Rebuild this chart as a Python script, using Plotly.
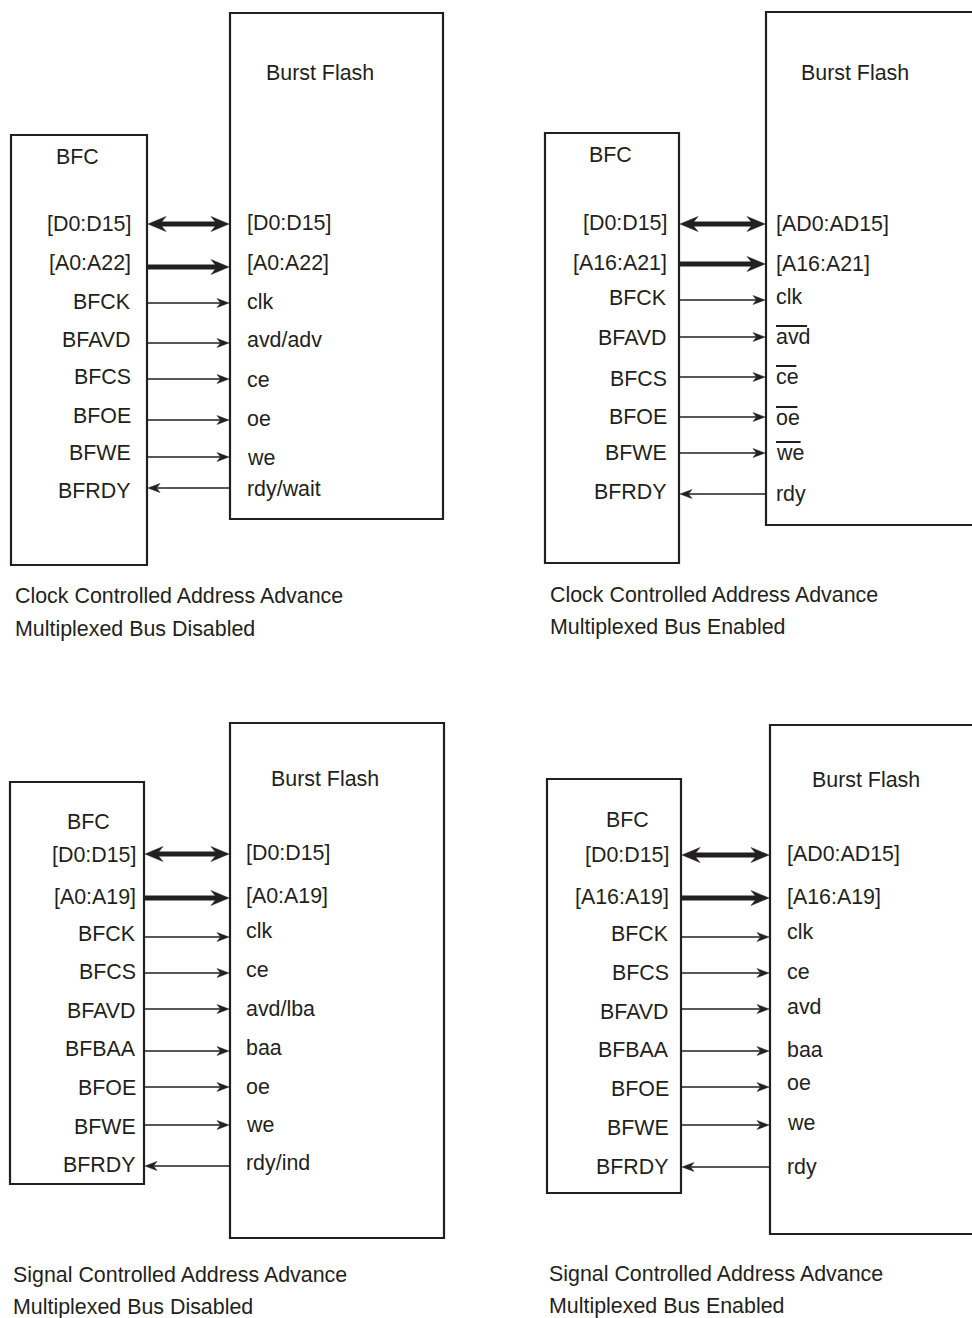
import plotly.graph_objects as go

INK = "#231f20"
FONT = "Liberation Sans, Arial, Helvetica, sans-serif"
FS = 21.4

# ---- Panel data -----------------------------------------------------------
# kind: "bidir" thick two-way bus, "bus" thick one-way, "in" BFC -> flash, "out" flash -> BFC

# Clock controlled address advance, multiplexed bus disabled
tl_bfc_pins = ["[D0:D15]", "[A0:A22]", "BFCK", "BFAVD", "BFCS", "BFOE", "BFWE", "BFRDY"]
tl_flash_pins = ["[D0:D15]", "[A0:A22]", "clk", "avd/adv", "ce", "oe", "we", "rdy/wait"]
tl_kind = ["bidir", "bus", "in", "in", "in", "in", "in", "out"]
tl_overline = [False, False, False, False, False, False, False, False]
tl_wire_y = [224, 267, 303, 343, 379, 420, 457, 488]
tl_bfc_y = [224, 263, 302, 340, 377, 416, 453, 491]
tl_flash_y = [223, 263, 302, 340, 380, 419, 458, 489]
tl_caption = ["Clock Controlled Address Advance", "Multiplexed Bus Disabled"]

# Clock controlled address advance, multiplexed bus enabled
tr_bfc_pins = ["[D0:D15]", "[A16:A21]", "BFCK", "BFAVD", "BFCS", "BFOE", "BFWE", "BFRDY"]
tr_flash_pins = ["[AD0:AD15]", "[A16:A21]", "clk", "avd", "ce", "oe", "we", "rdy"]
tr_kind = ["bidir", "bus", "in", "in", "in", "in", "in", "out"]
tr_overline = [False, False, False, True, True, True, True, False]
tr_wire_y = [224, 264, 300, 337, 377, 417, 453, 494]
tr_bfc_y = [223, 263, 298, 338, 379, 417, 453, 492]
tr_flash_y = [224, 264, 297, 337, 377, 418, 453, 494]
tr_caption = ["Clock Controlled Address Advance", "Multiplexed Bus Enabled"]

# Signal controlled address advance, multiplexed bus disabled
bl_bfc_pins = ["[D0:D15]", "[A0:A19]", "BFCK", "BFCS", "BFAVD", "BFBAA", "BFOE", "BFWE", "BFRDY"]
bl_flash_pins = ["[D0:D15]", "[A0:A19]", "clk", "ce", "avd/lba", "baa", "oe", "we", "rdy/ind"]
bl_kind = ["bidir", "bus", "in", "in", "in", "in", "in", "in", "out"]
bl_overline = [False] * 9
bl_wire_y = [854, 898, 937, 973, 1009, 1051, 1087, 1125, 1166]
bl_bfc_y = [855, 897, 934, 972, 1011, 1049, 1088, 1127, 1165]
bl_flash_y = [853, 896, 931, 970, 1009, 1048, 1087, 1125, 1163]
bl_caption = ["Signal Controlled Address Advance", "Multiplexed Bus Disabled"]

# Signal controlled address advance, multiplexed bus enabled
br_bfc_pins = ["[D0:D15]", "[A16:A19]", "BFCK", "BFCS", "BFAVD", "BFBAA", "BFOE", "BFWE", "BFRDY"]
br_flash_pins = ["[AD0:AD15]", "[A16:A19]", "clk", "ce", "avd", "baa", "oe", "we", "rdy"]
br_kind = ["bidir", "bus", "in", "in", "in", "in", "in", "in", "out"]
br_overline = [False] * 9
br_wire_y = [855, 898, 937, 973, 1009, 1051, 1087, 1125, 1167]
br_bfc_y = [855, 897, 934, 973, 1012, 1050, 1089, 1128, 1167]
br_flash_y = [854, 897, 932, 972, 1007, 1050, 1083, 1123, 1167]
br_caption = ["Signal Controlled Address Advance", "Multiplexed Bus Enabled"]

# Layout of each panel (boxes, titles, label columns, caption)
panels = [
    dict(bfc=(11, 135, 147, 565), flash=(230, 13, 443, 519),
         bfc_title=(77, 157), flash_title=(320, 73), bfc_lx=131, flash_lx=247,
         cap=(15, 596, 629),
         pins=(tl_bfc_pins, tl_flash_pins, tl_kind, tl_overline, tl_wire_y, tl_bfc_y, tl_flash_y),
         caption=tl_caption),
    dict(bfc=(545, 133, 679, 563), flash=(766, 12, 1000, 525),
         bfc_title=(610, 155), flash_title=(855, 73), bfc_lx=667, flash_lx=776,
         cap=(550, 595, 627),
         pins=(tr_bfc_pins, tr_flash_pins, tr_kind, tr_overline, tr_wire_y, tr_bfc_y, tr_flash_y),
         caption=tr_caption),
    dict(bfc=(10, 782, 144, 1184), flash=(230, 723, 444, 1238),
         bfc_title=(88, 822), flash_title=(325, 779), bfc_lx=136, flash_lx=246,
         cap=(13, 1275, 1307),
         pins=(bl_bfc_pins, bl_flash_pins, bl_kind, bl_overline, bl_wire_y, bl_bfc_y, bl_flash_y),
         caption=bl_caption),
    dict(bfc=(547, 779, 681, 1193), flash=(770, 725, 1000, 1234),
         bfc_title=(627, 820), flash_title=(866, 780), bfc_lx=669, flash_lx=787,
         cap=(549, 1274, 1306),
         pins=(br_bfc_pins, br_flash_pins, br_kind, br_overline, br_wire_y, br_bfc_y, br_flash_y),
         caption=br_caption),
]

# Arial-like advance widths (em) for the overlined lowercase labels
CHAR_W = {"a": 0.556, "v": 0.5, "d": 0.556, "c": 0.5, "e": 0.556, "o": 0.556, "w": 0.722}

fig = go.Figure()
shapes = []
annotations = []


def text(x, y, s, anchor="left"):
    # annotations carry ~2px of padding, compensate so glyphs sit on x
    shift = {"left": -2, "right": 2, "center": 0}[anchor]
    annotations.append(dict(
        x=x + shift, y=y, xref="x", yref="y", text=s, showarrow=False,
        xanchor=anchor, yanchor="middle",
        font=dict(family=FONT, size=FS, color=INK),
    ))


def head(tip_x, y, direction, thick):
    # barbed arrow head drawn as a filled path
    L, W, N = (18, 7.5, 12) if thick else (12, 4.5, 8.5)
    bx = tip_x - direction * L
    nx = tip_x - direction * N
    path = f"M{tip_x},{y} L{bx},{y - W} L{nx},{y} L{bx},{y + W} Z"
    shapes.append(dict(type="path", path=path, xref="x", yref="y",
                       fillcolor=INK, line=dict(color=INK, width=0.5)))
    return nx


for p in panels:
    bx0, by0, bx1, by1 = p["bfc"]
    fx0, fy0, fx1, fy1 = p["flash"]
    for box in (p["bfc"], p["flash"]):
        shapes.append(dict(type="rect", xref="x", yref="y",
                           x0=box[0], y0=box[1], x1=box[2], y1=box[3],
                           line=dict(color=INK, width=2.2), fillcolor="rgba(0,0,0,0)"))
    text(p["bfc_title"][0], p["bfc_title"][1], "BFC", "center")
    text(p["flash_title"][0], p["flash_title"][1], "Burst Flash", "center")

    bfc_pins, flash_pins, kind, over, wire_y, bfc_y, flash_y = p["pins"]
    for i in range(len(bfc_pins)):
        y = wire_y[i]
        k = kind[i]
        thick = k in ("bidir", "bus")
        lw = 5 if thick else 1.3
        x_start, x_end = bx1 + 1, fx0 - 1
        if k == "out":
            x_start = head(bx1 + 1, y, -1, False)
        else:
            x_end = head(fx0 - 1, y, 1, thick)
            if k == "bidir":
                x_start = head(bx1 + 1, y, -1, True)
        shapes.append(dict(type="line", xref="x", yref="y",
                           x0=x_start, y0=y, x1=x_end, y1=y,
                           line=dict(color=INK, width=lw)))

        text(p["bfc_lx"], bfc_y[i], bfc_pins[i], "right")
        text(p["flash_lx"], flash_y[i], flash_pins[i], "left")
        if over[i]:
            w = sum(CHAR_W.get(c, 0.556) for c in flash_pins[i]) * FS * 0.9
            oy = flash_y[i] - 11
            shapes.append(dict(type="line", xref="x", yref="y",
                               x0=p["flash_lx"], y0=oy, x1=p["flash_lx"] + w, y1=oy,
                               line=dict(color=INK, width=2)))

    cx, cy1, cy2 = p["cap"]
    text(cx, cy1, p["caption"][0], "left")
    text(cx, cy2, p["caption"][1], "left")

fig.update_layout(
    width=972,
    height=1318,
    margin=dict(l=0, r=0, t=0, b=0),
    paper_bgcolor="white",
    plot_bgcolor="white",
    showlegend=False,
    shapes=shapes,
    annotations=annotations,
    xaxis=dict(range=[0, 972], visible=False, fixedrange=True),
    yaxis=dict(range=[1318, 0], visible=False, fixedrange=True),
)

# drop the default body margin so the figure sits at the page origin
fig.write_html(
    "out.html",
    config={"displayModeBar": False},
    post_script="document.body.style.margin='0';document.body.style.overflow='hidden';",
)
